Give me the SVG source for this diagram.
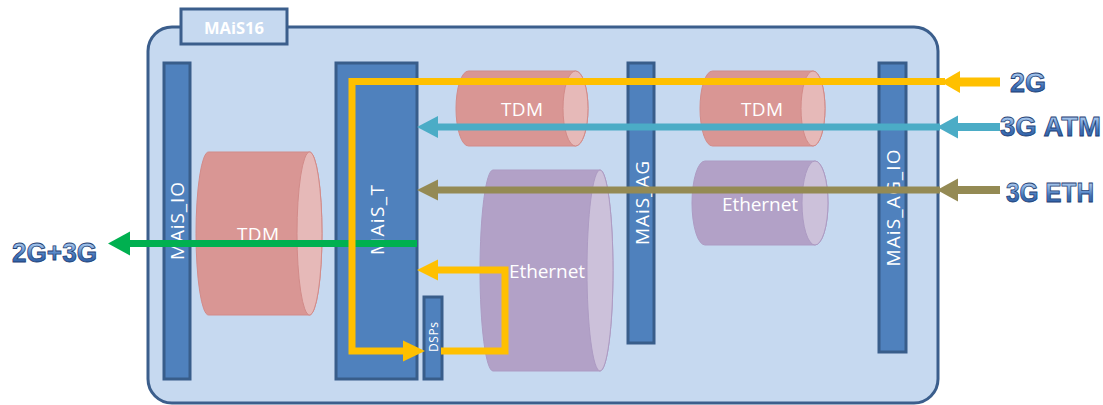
<svg xmlns="http://www.w3.org/2000/svg" width="1103" height="405" viewBox="0 0 1103 405">
  <defs>
    <linearGradient id="wa" x1="0" y1="0" x2="0" y2="1">
      <stop offset="0" stop-color="#D3E4F8"/>
      <stop offset="0.35" stop-color="#7FA9DE"/>
      <stop offset="0.6" stop-color="#3F72B8"/>
      <stop offset="1" stop-color="#2A5699"/>
    </linearGradient>
  </defs>
  <style>
    .frame { fill: #C6D9F0; stroke: #3B5E8C; stroke-width: 3; }
    .bar { fill: #4F81BD; stroke: #385D8A; stroke-width: 3; }
    .barlbl { font-family: "Open Sans", "Liberation Sans", Arial, sans-serif; font-size: 19px; fill: #FFFFFF; text-anchor: middle; }
    .tdm { fill: #D99694; stroke: #D28B89; stroke-width: 1; }
    .tdmface { fill: #E6B9B8; stroke: #D28B89; stroke-width: 1; }
    .eth { fill: #B2A1C7; stroke: #AD9BC3; stroke-width: 1; }
    .ethface { fill: #CCC1DA; stroke: #AD9BC3; stroke-width: 1; }
    .cyllbl { font-family: "Open Sans", "Liberation Sans", Arial, sans-serif; font-size: 19px; fill: #FFFFFF; text-anchor: middle; }
    .wa { font-family: "Liberation Sans", Arial, sans-serif; font-weight: bold; font-size: 27px; fill: url(#wa); stroke: #1E3F75; stroke-width: 0.8; }
    .ln { fill: none; stroke-width: 7; stroke-linejoin: miter; stroke-linecap: butt; }
    .y { stroke: #FFC000; } .yf { fill: #FFC000; }
    .t { stroke: #4BACC6; } .tf { fill: #4BACC6; }
    .o { stroke: #948A54; } .of { fill: #948A54; }
    .g { stroke: #00B050; } .gf { fill: #00B050; }
  </style>

  <g id="container">
    <rect class="frame" x="148" y="27" width="790" height="376" rx="24" ry="24"/>
    <rect class="frame" x="181" y="9" width="106" height="35"/>
    <text x="234" y="34" font-family="Open Sans, Liberation Sans, Arial, sans-serif" font-weight="bold" font-size="16" fill="#FFFFFF" text-anchor="middle" textLength="60" lengthAdjust="spacingAndGlyphs">MAiS16</text>
  </g>

  <g id="cyl-tdm-left">
    <path class="tdm" d="M208.5 152 H309.5 A12.5 81.5 0 0 1 309.5 315 H208.5 A12.5 81.5 0 0 1 208.5 152 Z"/>
    <ellipse class="tdmface" cx="309.5" cy="233.5" rx="12.5" ry="81.5"/>
    <text class="cyllbl" x="258" y="241" textLength="42">TDM</text>
  </g>
  <g id="cyl-tdm-mid">
    <path class="tdm" d="M468.5 71 H575.5 A12.5 37.5 0 0 1 575.5 146 H468.5 A12.5 37.5 0 0 1 468.5 71 Z"/>
    <ellipse class="tdmface" cx="575.5" cy="108.5" rx="12.5" ry="37.5"/>
    <text class="cyllbl" x="522" y="116" textLength="42">TDM</text>
  </g>
  <g id="cyl-tdm-right">
    <path class="tdm" d="M712.5 71 H813 A12 37.5 0 0 1 813 146 H712.5 A12.5 37.5 0 0 1 712.5 71 Z"/>
    <ellipse class="tdmface" cx="813" cy="108.5" rx="12" ry="37.5"/>
    <text class="cyllbl" x="762" y="116" textLength="42">TDM</text>
  </g>
  <g id="cyl-eth-mid">
    <path class="eth" d="M493 170 H600 A13 100.5 0 0 1 600 371 H493 A13 100.5 0 0 1 493 170 Z"/>
    <ellipse class="ethface" cx="600" cy="270.5" rx="13" ry="100.5"/>
    <text class="cyllbl" x="547" y="278" textLength="76">Ethernet</text>
  </g>
  <g id="cyl-eth-right">
    <path class="eth" d="M705 161 H815 A13 42 0 0 1 815 245 H705 A13 42 0 0 1 705 161 Z"/>
    <ellipse class="ethface" cx="815" cy="203" rx="13" ry="42"/>
    <text class="cyllbl" x="760" y="211" textLength="76">Ethernet</text>
  </g>

  <g id="bar-mais-io">
    <rect class="bar" x="164" y="63" width="26" height="316"/>
    <text class="barlbl" transform="translate(177 221) rotate(-90)" y="7" textLength="78">MAiS_IO</text>
  </g>
  <g id="bar-mais-t">
    <rect class="bar" x="336" y="63" width="81" height="316"/>
    <text class="barlbl" transform="translate(377 220) rotate(-90)" y="7" textLength="70">MAiS_T</text>
  </g>
  <g id="bar-dsps">
    <rect class="bar" x="424" y="297" width="18" height="82"/>
    <text class="barlbl" transform="translate(433 337) rotate(-90)" y="4.5" style="font-size:12px" textLength="30">DSPs</text>
  </g>
  <g id="bar-mais-ag">
    <rect class="bar" x="628" y="63" width="26" height="280"/>
    <text class="barlbl" transform="translate(642 203) rotate(-90)" y="7" textLength="84">MAiS_AG</text>
  </g>
  <g id="bar-mais-ag-io">
    <rect class="bar" x="879" y="63" width="27" height="289"/>
    <text class="barlbl" transform="translate(893 208) rotate(-90)" y="7" textLength="117">MAiS_AG_IO</text>
  </g>

  <g id="connectors">
    <line class="ln g" x1="129" y1="243.5" x2="417" y2="243.5"/>
    <polygon class="gf" points="108,243.5 130,231.5 130,255.5"/>
    <line class="ln t" x1="436" y1="127" x2="940" y2="127"/>
    <polygon class="tf" points="417,127 438,116 438,138"/>
    <line class="ln t" x1="956" y1="127" x2="1000" y2="127" style="stroke-width:8"/>
    <polygon class="tf" points="937,127 958,115.5 958,138.5"/>
    <line class="ln o" x1="436" y1="190" x2="940" y2="190"/>
    <polygon class="of" points="417,190 438,179.5 438,200.5"/>
    <line class="ln o" x1="956" y1="190" x2="1000" y2="190" style="stroke-width:8"/>
    <polygon class="of" points="937,190 958,178.5 958,201.5"/>
    <polyline class="ln y" points="945,81.5 352,81.5 352,351 405,351"/>
    <polygon class="yf" points="425,351 403,340.5 403,361.5"/>
    <line class="ln y" x1="957" y1="82" x2="1000" y2="82" style="stroke-width:9"/>
    <polygon class="yf" points="941,82 960,71 960,93"/>
    <polyline class="ln y" points="441,351 505,351 505,270 436,270"/>
    <polygon class="yf" points="417,270 438,259.5 438,280.5"/>
  </g>

  <g id="labels">
    <text class="wa" x="1010" y="92" textLength="36" lengthAdjust="spacingAndGlyphs">2G</text>
    <text class="wa" x="1000" y="136" textLength="101" lengthAdjust="spacingAndGlyphs">3G ATM</text>
    <text class="wa" x="1006" y="202" textLength="88" lengthAdjust="spacingAndGlyphs">3G ETH</text>
    <text class="wa" x="12" y="262" textLength="85" lengthAdjust="spacingAndGlyphs">2G+3G</text>
  </g>
</svg>
